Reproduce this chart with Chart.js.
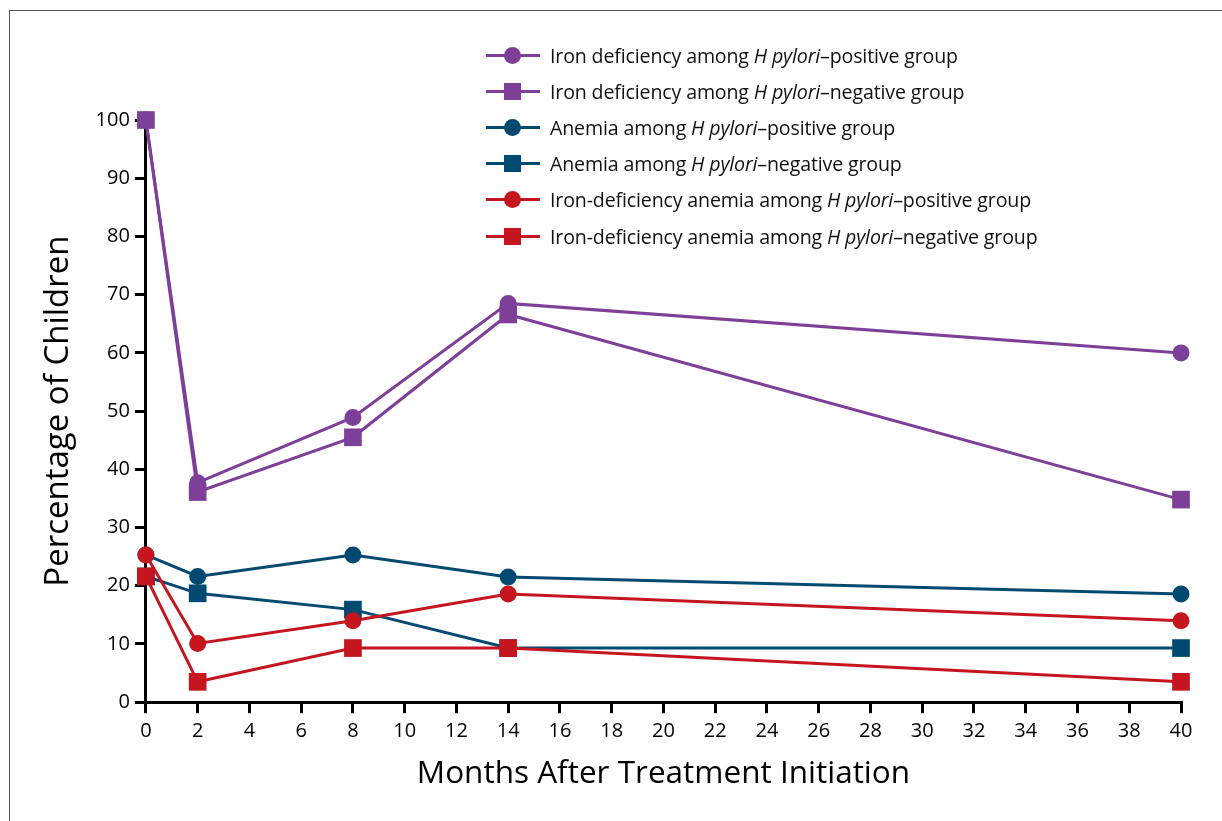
<!DOCTYPE html>
<html>
<head>
<meta charset="utf-8">
<script src="https://cdn.jsdelivr.net/npm/chart.js@4.4.1/dist/chart.umd.min.js"></script>
<style>
    body { margin: 0; background: #fff; }
    #wrap { position: relative; width: 1222px; height: 821px; overflow: hidden; font-family: "Open Sans", sans-serif; }
    #frame { position: absolute; left: 9px; top: 10px; width: 1400px; height: 1000px; border: 1.5px solid #555; }
    #grafico { position: absolute; left: 0; top: 0; }
    #legenda { position: absolute; left: 486px; top: 37px; }
    .item { height: 36.2px; display: flex; align-items: center; font-size: 19.6px; color: #111; letter-spacing: -0.15px; }
    .icone { position: relative; width: 54px; height: 20px; margin-right: 10px; }
    .icone .linha { position: absolute; left: 0; right: 0; top: 8.5px; height: 3px; }
    .icone .marca { position: absolute; left: 18px; top: 1.5px; width: 17px; height: 17px; }
    .icone .circ { border-radius: 50%; }
</style>
</head>
<body>
<div id="wrap">
    <div id="frame"></div>
    <canvas id="grafico" width="1222" height="821"></canvas>
    <div id="legenda"></div>
</div>
<script>
// meses apos o inicio do tratamento
const meses = [0, 2, 8, 14, 40];

const ferroPositivo = [100, 37.7, 48.9, 68.5, 60];
const ferroNegativo = [100, 36.1, 45.5, 66.6, 34.8];
const anemiaPositivo = [25.3, 21.6, 25.3, 21.5, 18.6];
const anemiaNegativo = [21.6, 18.7, 15.9, 9.3, 9.3];
const anemiaFerroPositivo = [25.3, 10.1, 14.0, 18.6, 14.0];
const anemiaFerroNegativo = [21.6, 3.5, 9.3, 9.3, 3.5];

const ROXO = "#7d3f98";
const AZUL = "#004a72";
const VERMELHO = "#c5161f";

const series = [
    { nome: "Iron deficiency among ", grupo: "positive", dados: ferroPositivo, cor: ROXO, ponto: "circle", ordem: 6 },
    { nome: "Iron deficiency among ", grupo: "negative", dados: ferroNegativo, cor: ROXO, ponto: "rect", ordem: 5 },
    { nome: "Anemia among ", grupo: "positive", dados: anemiaPositivo, cor: AZUL, ponto: "circle", ordem: 4 },
    { nome: "Anemia among ", grupo: "negative", dados: anemiaNegativo, cor: AZUL, ponto: "rect", ordem: 3 },
    { nome: "Iron-deficiency anemia among ", grupo: "positive", dados: anemiaFerroPositivo, cor: VERMELHO, ponto: "circle", ordem: 2 },
    { nome: "Iron-deficiency anemia among ", grupo: "negative", dados: anemiaFerroNegativo, cor: VERMELHO, ponto: "rect", ordem: 1 }
];

function montarLegenda() {
    const legenda = document.getElementById("legenda");
    legenda.innerHTML = series.map(s => `
        <div class="item">
            <span class="icone">
                <span class="linha" style="background:${s.cor}"></span>
                <span class="marca ${s.ponto === "circle" ? "circ" : ""}" style="background:${s.cor}"></span>
            </span>
            <span>${s.nome}<i>H pylori</i>–${s.grupo} group</span>
        </div>
    `).join("");
}

const eixoPreto = {
    display: true,
    drawOnChartArea: false,
    drawTicks: true,
    tickLength: 11,
    color: "#000",
    lineWidth: 3
};

new Chart(document.getElementById("grafico"), {
    type: "line",
    data: {
        datasets: series.map(s => ({
            label: s.nome + "H pylori–" + s.grupo + " group",
            data: meses.map((m, i) => ({ x: m, y: s.dados[i] })),
            borderColor: s.cor,
            backgroundColor: s.cor,
            borderWidth: 3,
            pointStyle: s.ponto,
            pointRadius: s.ponto === "rect" ? 12.5 : 8.5,
            pointHoverRadius: s.ponto === "rect" ? 12.5 : 8.5,
            pointBorderWidth: 0,
            tension: 0,
            clip: false,
            order: s.ordem
        }))
    },
    options: {
        responsive: false,
        animation: false,
        events: [],
        layout: { padding: { left: 35, right: 41, top: 120, bottom: 24 } },
        plugins: { legend: { display: false }, tooltip: { enabled: false } },
        scales: {
            x: {
                type: "linear",
                min: 0,
                max: 40,
                ticks: { stepSize: 2, color: "#000", font: { family: "Open Sans", size: 20 }, padding: 6 },
                grid: eixoPreto,
                border: { color: "#000", width: 3 },
                title: { display: true, text: "Months After Treatment Initiation", color: "#000", font: { family: "Open Sans", size: 31.5 }, padding: { top: 6 } }
            },
            y: {
                min: 0,
                max: 100,
                ticks: { stepSize: 10, color: "#000", font: { family: "Open Sans", size: 20 }, padding: 5 },
                grid: eixoPreto,
                border: { color: "#000", width: 3 },
                title: { display: true, text: "Percentage of Children", color: "#000", font: { family: "Open Sans", size: 33 }, padding: { bottom: 12 } }
            }
        }
    }
});

montarLegenda();
</script>
</body>
</html>
